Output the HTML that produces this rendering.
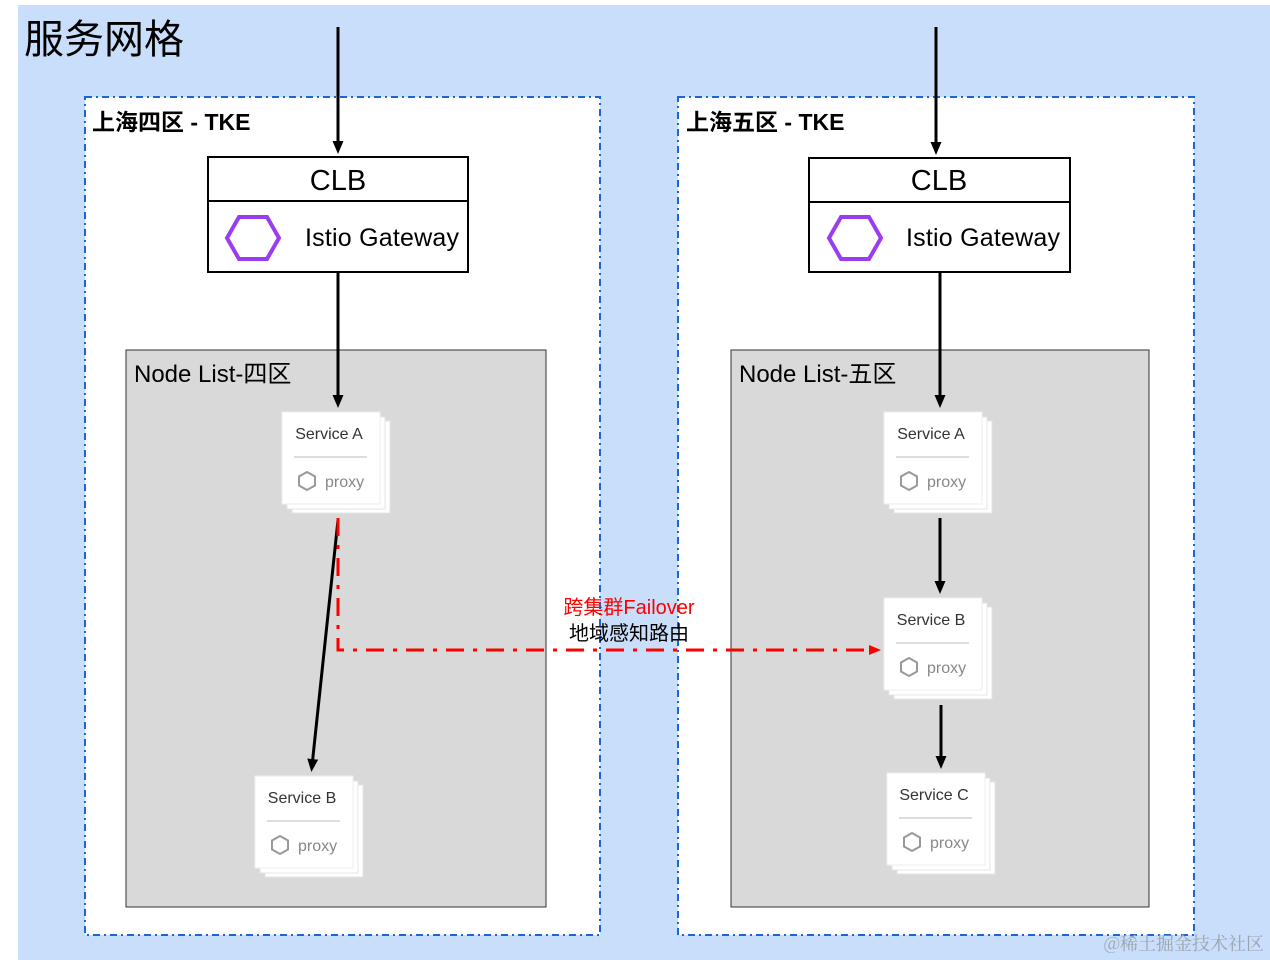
<!DOCTYPE html>
<html><head><meta charset="utf-8"><style>
body{margin:0;background:#fff;}
svg{display:block;font-family:"Liberation Sans","Noto Sans CJK SC",sans-serif;}
</style></head><body>
<svg width="1270" height="960" viewBox="0 0 1270 960">
<defs>
<marker id="ab" markerWidth="14" markerHeight="14" refX="7" refY="7" orient="auto" markerUnits="userSpaceOnUse"><path d="M0,1.5 L13,7 L0,12.5 z" fill="#000"/></marker>
<marker id="ar" markerWidth="14" markerHeight="14" refX="7" refY="7" orient="auto" markerUnits="userSpaceOnUse"><path d="M0,2 L12,7 L0,12 z" fill="#f00"/></marker>
<g id="card">
<rect x="10" y="9" width="98" height="92" fill="#fff" stroke="#e4e4e4"/>
<rect x="5" y="5" width="98" height="92" fill="#fff" stroke="#e4e4e4"/>
<rect x="0" y="0" width="98" height="92" fill="#fff" stroke="#eee"/>
<line x1="12" y1="45" x2="85" y2="45" stroke="#bbb"/>
<polygon points="25,60 33,64.5 33,73.5 25,78 17,73.5 17,64.5" fill="none" stroke="#999" stroke-width="2"/>
<text x="43" y="75" font-size="16" fill="#888">proxy</text>
</g>
<g id="hex"><polygon points="0,0 12,-21 40,-21 52,0 40,21 12,21" fill="none" stroke="#9b3cf0" stroke-width="4"/></g>
</defs>
<rect x="18" y="5" width="1252" height="955" fill="#c9defa"/>
<text x="24" y="53" font-size="40" fill="#000">服务网格</text>

<rect x="85" y="97" width="515" height="838" fill="#fff" stroke="#1a66d6" stroke-width="2" stroke-dasharray="7,4,2,4"/>
<rect x="678" y="97" width="516" height="838" fill="#fff" stroke="#1a66d6" stroke-width="2" stroke-dasharray="7,4,2,4"/>
<text x="92" y="130" font-size="23" font-weight="bold">上海四区 - TKE</text>
<text x="686" y="130" font-size="23" font-weight="bold">上海五区 - TKE</text>

<rect x="126" y="350" width="420" height="557" fill="#d9d9d9" stroke="#333"/>
<rect x="731" y="350" width="418" height="557" fill="#d9d9d9" stroke="#333"/>
<text x="134" y="382" font-size="24">Node List-四区</text>
<text x="739" y="382" font-size="24">Node List-五区</text>

<rect x="208" y="157" width="260" height="115" fill="#fff" stroke="#000" stroke-width="2"/>
<line x1="208" y1="201" x2="468" y2="201" stroke="#000" stroke-width="2"/>
<text x="338" y="190" font-size="29" text-anchor="middle">CLB</text>
<use href="#hex" x="227" y="238"/>
<text x="305" y="246" font-size="25" textLength="154">Istio Gateway</text>

<rect x="809" y="158" width="261" height="114" fill="#fff" stroke="#000" stroke-width="2"/>
<line x1="809" y1="202" x2="1070" y2="202" stroke="#000" stroke-width="2"/>
<text x="939" y="190" font-size="29" text-anchor="middle">CLB</text>
<use href="#hex" x="829" y="238"/>
<text x="906" y="246" font-size="25" textLength="154">Istio Gateway</text>

<g stroke="#000" stroke-width="3">
<line x1="338" y1="27" x2="338" y2="148" marker-end="url(#ab)"/>
<line x1="936" y1="27" x2="936" y2="149" marker-end="url(#ab)"/>
<line x1="338" y1="272" x2="338" y2="402" marker-end="url(#ab)"/>
<line x1="940" y1="272" x2="940" y2="402" marker-end="url(#ab)"/>
<line x1="940" y1="518" x2="940" y2="588" marker-end="url(#ab)"/>
<line x1="941" y1="705" x2="941" y2="763" marker-end="url(#ab)"/>
<line x1="338" y1="520" x2="312" y2="766" marker-end="url(#ab)"/>
</g>

<use href="#card" x="282" y="412"/>
<text x="329" y="439" font-size="16" fill="#333" text-anchor="middle">Service A</text>
<use href="#card" x="255" y="776"/>
<text x="302" y="803" font-size="16" fill="#333" text-anchor="middle">Service B</text>
<use href="#card" x="884" y="412"/>
<text x="931" y="439" font-size="16" fill="#333" text-anchor="middle">Service A</text>
<use href="#card" x="884" y="598"/>
<text x="931" y="625" font-size="16" fill="#333" text-anchor="middle">Service B</text>
<use href="#card" x="887" y="773"/>
<text x="934" y="800" font-size="16" fill="#333" text-anchor="middle">Service C</text>

<path d="M338,518 L338,650 L876,650" fill="none" stroke="#f00" stroke-width="3" stroke-dasharray="18,9,4,9" marker-end="url(#ar)"/>
<text x="629" y="614" font-size="20" fill="#f00" text-anchor="middle">跨集群Failover</text>
<text x="629" y="640" font-size="20" fill="#000" text-anchor="middle">地域感知路由</text>

<text x="1264" y="950" font-size="18" fill="#9aa3b0" text-anchor="end" font-family="'Noto Serif CJK SC',serif">@稀土掘金技术社区</text>
</svg>
</body></html>
